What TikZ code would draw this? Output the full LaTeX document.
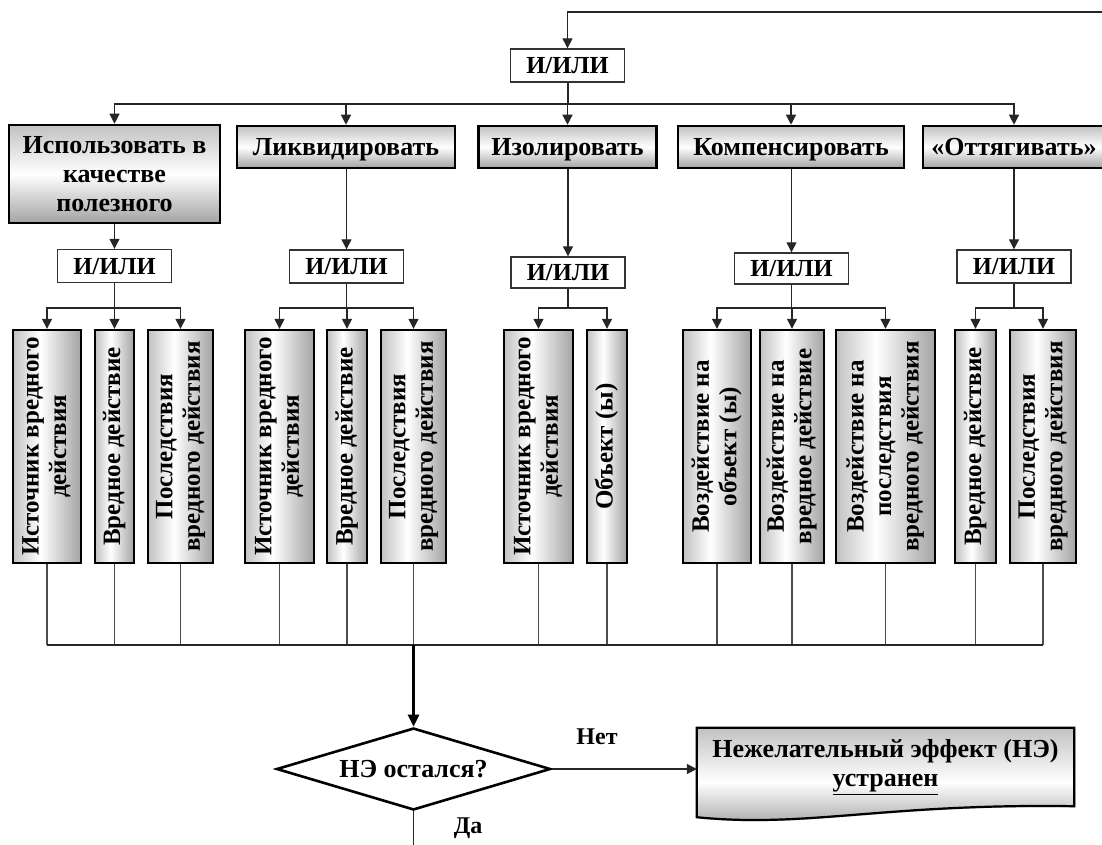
\documentclass[tikz,border=0pt]{standalone}
\usepackage{fontspec}
\setmainfont{Liberation Serif}
\usetikzlibrary{arrows.meta,shapes.geometric,shadows,calc}

\definecolor{shadeA}{gray}{0.76}
\definecolor{shadeB}{gray}{0.64}
% gradients: vertical boxes vary left-to-right, horizontal boxes top-to-bottom
\pgfdeclarehorizontalshading{colshade}{100bp}{color(0bp)=(shadeA); color(25bp)=(shadeA); color(45bp)=(white); color(75bp)=(shadeB); color(100bp)=(shadeB)}
\pgfdeclareverticalshading{rowshade}{100bp}{color(0bp)=(shadeB); color(25bp)=(shadeB); color(50bp)=(white); color(75bp)=(shadeA); color(100bp)=(shadeA)}
\pgfdeclareverticalshading{docshade}{100bp}{color(0bp)=(shadeB); color(25bp)=(shadeB); color(48bp)=(white); color(75bp)=(shadeA); color(100bp)=(shadeA)}

\newcommand\vtext[1]{\rotatebox{90}{\begin{tabular}{@{}c@{}}#1\end{tabular}}}

\tikzset{
  conn/.style={line width=1.3pt, draw=black!85},
  arr/.style={conn, -{Triangle[length=10pt,width=10pt]}},
  feed/.style={line width=1.3pt, draw=black!70},
  shadowed/.style={drop shadow={shadow xshift=1.2pt, shadow yshift=-1.2pt, fill=black, opacity=0.3}},
  act/.style={draw=black, line width=2.6pt, shading=rowshade, shadowed, align=center, inner sep=0pt},
  oneline/.style={act, minimum height=42pt, text depth=0pt},
  orbox/.style={draw=black!80, line width=1.4pt, fill=white, minimum width=114pt, minimum height=33pt, inner sep=0pt, text depth=0pt, font=\bfseries\fontsize{24.5}{28}\selectfont},
  col/.style={draw=black, line width=2.4pt, shading=colshade, shadowed, minimum height=233pt, inner sep=0pt, font=\bfseries\fontsize{25}{27.5}\selectfont},
  lbl/.style={inner sep=0pt, font=\bfseries\fontsize{24}{28}\selectfont}
}

\begin{document}
\begin{tikzpicture}[x=1pt, y=-1pt, font=\bfseries\fontsize{26}{29}\selectfont]
\useasboundingbox (0,0) rectangle (1102,844);

% top level choice
\node[orbox] (or0) at (567.5,65.5) {И/ИЛИ};
\coordinate (loop) at (1106,12);
\draw[arr] (loop) -| (or0.north);

% strategies
\node[act, minimum width=211pt, minimum height=98pt] (a1) at (114.5,174) {Использовать в\\качестве\\полезного};
\node[oneline, minimum width=218pt] (a2) at (346,147) {Ликвидировать};
\node[oneline, minimum width=178pt] (a3) at (567.5,147) {Изолировать};
\node[oneline, minimum width=226pt] (a4) at (791,147) {Компенсировать};
\node[oneline, minimum width=182pt] (a5) at (1014,147) {«Оттягивать»};

\coordinate (topbus) at (0,104);
\draw[conn, line width=2pt] (or0.south) -- (or0.south |- topbus);
\foreach \n in {a1,a2,a3,a4,a5}
  \draw[arr] (or0.south |- topbus) -| (\n.north);

% second level choices
\node[orbox] (o1) at (114.5,266) {И/ИЛИ};
\node[orbox] (o2) at (346.5,266.5) {И/ИЛИ};
\node[orbox, minimum height=31pt] (o3) at (568,272.5) {И/ИЛИ};
\node[orbox, minimum height=31pt] (o4) at (791.5,268.5) {И/ИЛИ};
\node[orbox] (o5) at (1014,266.5) {И/ИЛИ};

\draw[arr] (a1.south) -- (o1.north);
\draw[arr] (a2.south -| o2.north) -- (o2.north);
\draw[arr] (a3.south -| o3.north) -- (o3.north);
\draw[arr] (a4.south -| o4.north) -- (o4.north);
\draw[arr] (a5.south) -- (o5.north);

% targets of each strategy
\node[col, minimum width=68pt] (c1a) at (47,446.5)    {\vtext{Источник вредного\\действия}};
\node[col, minimum width=39pt] (c1b) at (114.5,446.5) {\vtext{Вредное действие}};
\node[col, minimum width=65pt] (c1c) at (180.5,446.5) {\vtext{Последствия\\вредного действия}};

\node[col, minimum width=69pt] (c2a) at (279.5,446.5) {\vtext{Источник вредного\\действия}};
\node[col, minimum width=40pt] (c2b) at (347,446.5)   {\vtext{Вредное действие}};
\node[col, minimum width=65pt] (c2c) at (413.5,446.5) {\vtext{Последствия\\вредного действия}};

\node[col, minimum width=69pt] (c3a) at (538.5,446.5) {\vtext{Источник вредного\\действия}};
\node[col, minimum width=40pt] (c3b) at (607,446.5)   {\vtext{Объект (ы)}};

\node[col, minimum width=68pt] (c4a) at (717,446.5)   {\vtext{Воздействие на\\объект (ы)}};
\node[col, minimum width=64pt] (c4b) at (792,446.5)   {\vtext{Воздействие на\\вредное действие}};
\node[col, minimum width=99pt] (c4c) at (885.5,446.5) {\vtext{Воздействие на\\последствия\\вредного действия}};

\node[col, minimum width=41pt] (c5a) at (975.5,446.5) {\vtext{Вредное действие}};
\node[col, minimum width=66pt] (c5b) at (1043,446.5)  {\vtext{Последствия\\вредного действия}};

\coordinate (sub) at (0,308);
\foreach \o/\c in {o1/c1a,o1/c1b,o1/c1c,o2/c2a,o2/c2b,o2/c2c,o3/c3a,o3/c3b,o4/c4a,o4/c4b,o4/c4c,o5/c5a,o5/c5b}
  \draw[arr] (\o.south) -- (\o.south |- sub) -| (\c.north);

% collecting bus
\coordinate (bus) at (0,645);
\foreach \c in {c1a,c1b,c1c,c2a,c2b,c2c,c3a,c3b,c4a,c4b,c4c,c5a,c5b}
  \draw[feed] (\c.south) -- (\c.south |- bus);
\draw[conn, line width=1.8pt] (c1a.south |- bus) -- (c5b.south |- bus);

% check
\node[draw=black, line width=2.6pt, shape=diamond, aspect=3.34, minimum width=274pt, minimum height=82pt, inner sep=0pt, fill=white] (dia) at (413.5,769) {НЭ остался?};
\draw[line width=2.6pt, -{Triangle[length=12pt,width=11pt]}] (c2c.south |- bus) -- (dia.north);

% result: document-shaped box with a wavy bottom edge
\node[inner sep=0pt, minimum width=377pt, minimum height=78pt] (ne) at (885.5,767) {};
\shadedraw[shading=docshade, draw=black, line width=2.2pt, shadowed]
  (ne.north west) -- (ne.north east) -- (ne.south east)
  .. controls ($(ne.south east)+(-190,-3)$) and ($(ne.south west)+(110,22)$) .. ($(ne.south west)+(0,11)$) -- cycle;
\node[inner sep=0pt, align=center] (netext) at (ne.center) {Нежелательный эффект (НЭ)\\\underline{устранен}};

\draw[arr] (dia.east) -- (dia.east -| ne.west);
\node[lbl] (no) at (597,737) {Нет};

\coordinate (down) at (413.5,850);
\draw[conn] (dia.south) -- (down);
\node[lbl] (yes) at (468,828) {Да};
\end{tikzpicture}
\end{document}
